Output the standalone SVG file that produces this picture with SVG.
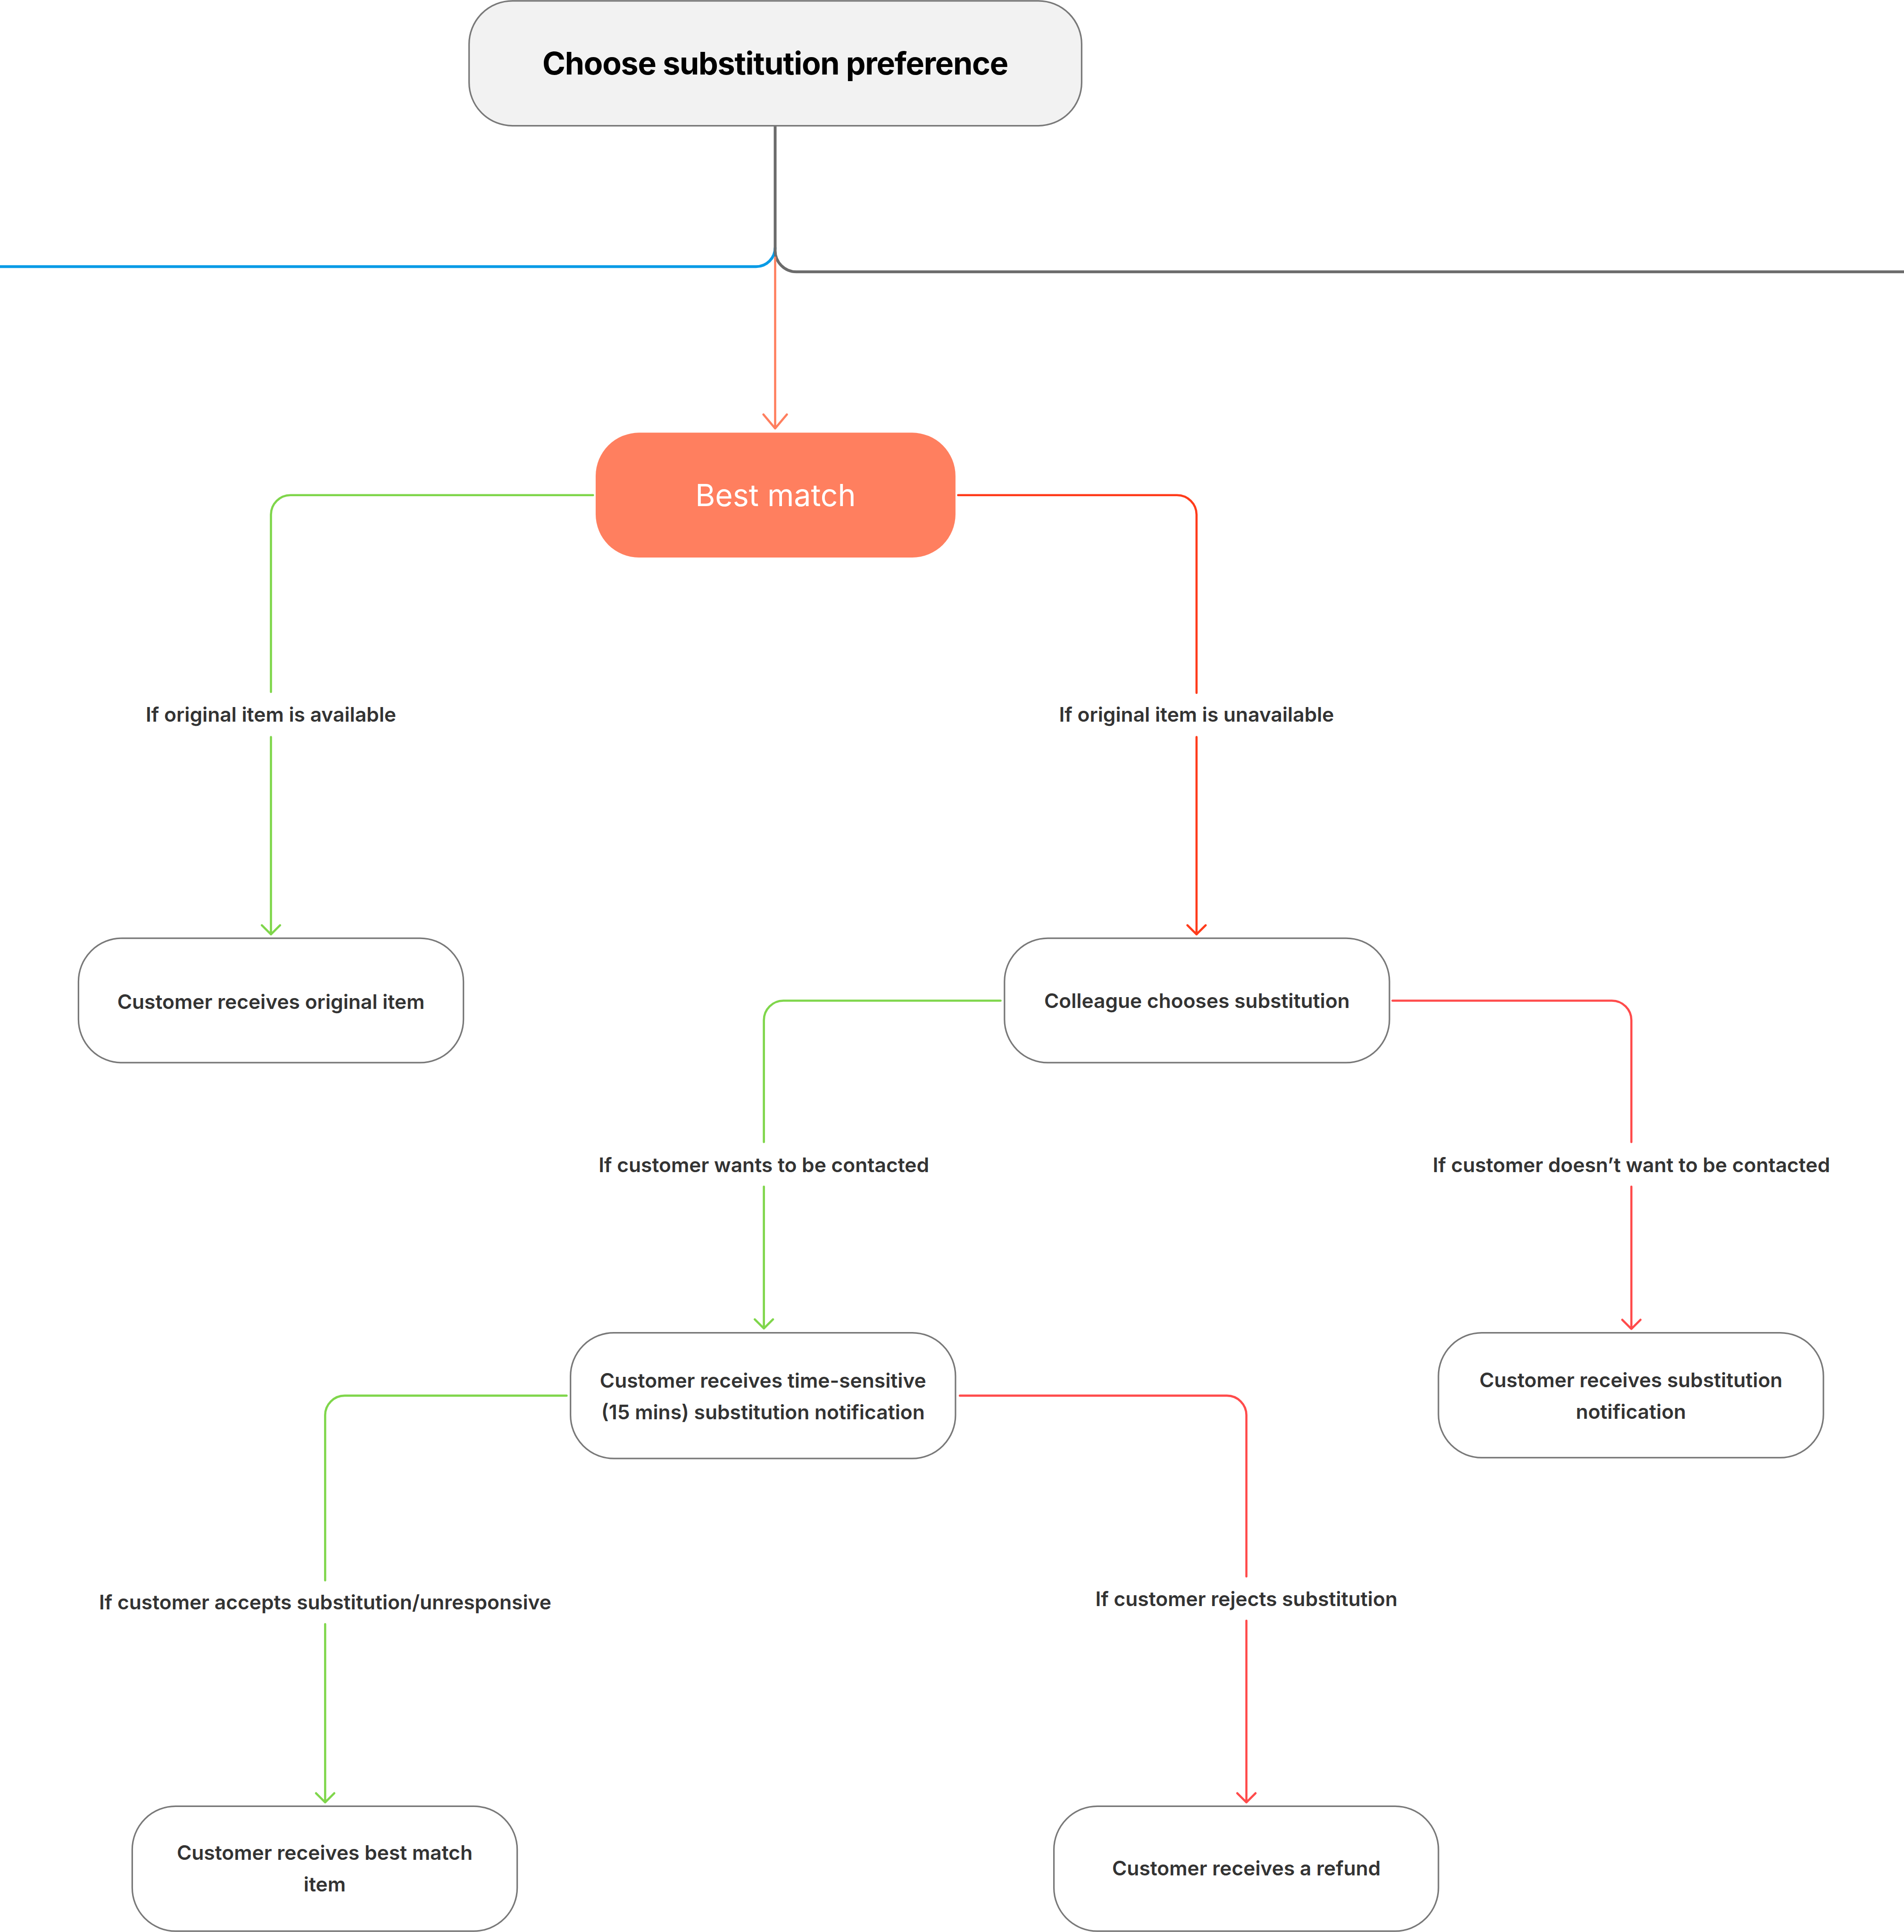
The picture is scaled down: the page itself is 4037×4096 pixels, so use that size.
<svg xmlns="http://www.w3.org/2000/svg" width="4037" height="4096" viewBox="0 0 4037 4096">
<style>
.node{fill:#ffffff;stroke:#787878;stroke-width:3.5}
.t{font-family:Inter,"Noto Sans","Liberation Sans",sans-serif;font-size:46.3px;font-weight:600;fill:#333333;text-anchor:middle}
.lbl{font-family:Inter,"Noto Sans","Liberation Sans",sans-serif;font-size:46.3px;font-weight:600;fill:#333333;text-anchor:middle}
.c{fill:none;stroke-width:5;stroke-linecap:round;stroke-linejoin:round}
.g{stroke:#7fd64b}
.r1{stroke:#ff3b1a}
.r{stroke:#ff4b4b}
.o{stroke:#ff7f5f}
</style>
<rect width="4037" height="4096" fill="#ffffff"/>
<g transform="scale(0.9192)">
<g id="connectors">
<path d="M1788 571 A44 44 0 0 1 1744 615 L0 615" fill="none" stroke="#0a9be6" stroke-width="6.5"/>
<path d="M1788 290 L1788 578 A49 49 0 0 0 1837 627 L4392 627" fill="none" stroke="#6b6b6b" stroke-width="6.5"/>
<path class="c o" d="M1788 594 L1788 986 M1761 956 L1788 988 L1815 956"/>
<path class="c g" d="M1368 1142 L670 1142 A45 45 0 0 0 625 1187 L625 1596 M625 1700 L625 2155 M604 2134 L625 2155 L646 2134"/>
<path class="c r1" d="M2210 1142 L2715 1142 A45 45 0 0 1 2760 1187 L2760 1598 M2760 1700 L2760 2155 M2739 2134 L2760 2155 L2781 2134"/>
<path class="c g" d="M2308 2308 L1807 2308 A45 45 0 0 0 1762 2353 L1762 2634 M1762 2737 L1762 3064 M1741 3043 L1762 3064 L1783 3043"/>
<path class="c r" d="M3212 2308 L3718 2308 A45 45 0 0 1 3763 2353 L3763 2634 M3763 2737 L3763 3065 M3742 3044 L3763 3065 L3784 3044"/>
<path class="c g" d="M1307 3219 L795 3219 A45 45 0 0 0 750 3264 L750 3645 M750 3746 L750 4157 M729 4136 L750 4157 L771 4136"/>
<path class="c r" d="M2214 3219 L2830 3219 A45 45 0 0 1 2875 3264 L2875 3636 M2875 3738 L2875 4157 M2854 4136 L2875 4157 L2896 4136"/>
<text class="lbl" x="625" y="1665">If original item is available</text>
<text class="lbl" x="2760" y="1665">If original item is unavailable</text>
<text class="lbl" x="1762" y="2703">If customer wants to be contacted</text>
<text class="lbl" x="3763" y="2703">If customer doesn’t want to be contacted</text>
<text class="lbl" x="750" y="3712">If customer accepts substitution/unresponsive</text>
<text class="lbl" x="2875" y="3704">If customer rejects substitution</text>
</g>
<g id="node-title">
<rect x="1082" y="2" width="1413" height="288" rx="100" fill="#f2f2f2" stroke="#787878" stroke-width="3.5"/>
<text x="1788" y="172" font-family="Inter,'Noto Sans','Liberation Sans',sans-serif" font-size="72" font-weight="700" letter-spacing="-1.3" fill="#000000" text-anchor="middle">Choose substitution preference</text>
</g>
<g id="node-bestmatch">
<rect x="1374" y="998" width="830" height="288" rx="100" fill="#ff7f5f"/>
<text x="1789" y="1167" font-family="Inter,'Noto Sans','Liberation Sans',sans-serif" font-size="70" font-weight="400" fill="#ffffff" text-anchor="middle">Best match</text>
</g>
<g id="node-original">
<rect class="node" x="181" y="2164" width="888" height="287" rx="100"/>
<text class="t" x="625" y="2327">Customer receives original item</text>
</g>
<g id="node-colleague">
<rect class="node" x="2317" y="2164" width="888" height="287" rx="100"/>
<text class="t" x="2761" y="2325">Colleague chooses substitution</text>
</g>
<g id="node-timesensitive">
<rect class="node" x="1316" y="3074" width="888" height="290" rx="100"/>
<text class="t" x="1760" y="3201">Customer receives time-sensitive</text>
<text class="t" x="1760" y="3274">(15 mins) substitution notification</text>
</g>
<g id="node-notification">
<rect class="node" x="3318" y="3074" width="888" height="288" rx="100"/>
<text class="t" x="3762" y="3199">Customer receives substitution</text>
<text class="t" x="3762" y="3272">notification</text>
</g>
<g id="node-bestitem">
<rect class="node" x="305" y="4166" width="888" height="288" rx="100"/>
<text class="t" x="749" y="4290">Customer receives best match</text>
<text class="t" x="749" y="4362">item</text>
</g>
<g id="node-refund">
<rect class="node" x="2431" y="4166" width="887" height="288" rx="100"/>
<text class="t" x="2875" y="4326">Customer receives a refund</text>
</g>
</g>
</svg>
